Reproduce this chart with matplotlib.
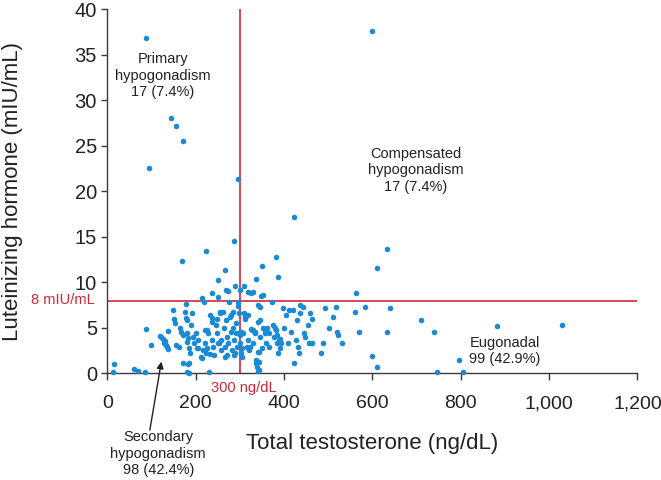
import matplotlib
matplotlib.use("Agg")
import matplotlib.pyplot as plt
import matplotlib.transforms as mtransforms

plt.rcParams['font.family'] = ['Liberation Sans', 'DejaVu Sans']

# Total testosterone (ng/dL) / Luteinizing hormone (mIU/mL)
tt_above = [87, 600, 143, 155, 171, 93, 295, 423, 286, 223, 632, 169, 381, 611, 350, 266, 387,
            336, 251, 563, 308, 289, 301, 268, 274, 326, 352, 348, 319, 330, 213, 236, 250]
lh_above = [36.8, 37.6, 28.0, 27.2, 25.5, 22.6, 21.4, 17.2, 14.5, 13.4, 13.7, 12.4, 12.8, 11.6, 11.8, 11.4, 10.6,
            10.4, 10.3, 8.8, 9.65, 9.6, 9.2, 9.2, 9.1, 8.8, 8.65, 8.55, 8.9, 8.9, 8.3, 8.85, 8.4]

tt_secondary = [14, 12, 61, 69, 84, 87, 99,
                120, 125, 127, 132, 136, 138, 122, 130, 134,
                148, 151, 154, 156, 161, 165, 167, 171, 172, 175,
                177, 180, 181, 183, 184, 184, 181, 186, 189, 191,
                194, 196, 200, 204, 206, 213, 216, 220, 221, 223,
                225, 228, 229, 232, 232, 237, 237, 240, 242, 245,
                247, 249, 252, 254, 256, 258, 261, 263, 266, 267,
                269, 271, 273, 279, 280, 282, 284, 287, 289, 290,
                292, 294, 296, 297,
                178, 180, 202, 183, 185, 211, 225, 236, 255, 251,
                277, 284, 286, 270, 299, 218, 276, 296]
lh_secondary = [1.0, 0.15, 0.5, 0.25, 0.2, 4.85, 3.1,
                4.1, 3.8, 3.4, 3.1, 4.7, 2.7, 4.0, 3.6, 2.9,
                7.0, 6.0, 5.5, 3.1, 2.9, 5.0, 4.6, 4.2, 1.1, 6.8,
                7.6, 5.9, 4.4, 3.85, 2.75, 1.1, 0.2, 2.2, 5.3, 6.6,
                4.0, 3.3, 4.4, 2.75, 3.7, 1.65, 2.6, 3.3, 4.8, 2.2,
                2.8, 4.4, 0.2, 2.1, 6.4, 5.7, 3.7, 2.9, 2.0, 5.3,
                6.0, 4.4, 3.3, 6.6, 2.6, 3.7, 6.8, 5.0, 2.9, 1.8,
                5.9, 4.0, 3.3, 6.4, 4.6, 2.6, 6.8, 3.7, 2.2, 5.5,
                4.4, 2.9, 7.4, 6.6,
                6.1, 3.5, 2.8, 1.0, 0.1, 1.85, 4.8, 6.1, 6.8, 3.3,
                6.2, 5.0, 2.0, 2.0, 4.6, 7.9, 7.9, 7.9]

tt_eugonadal = [300, 301, 302, 304, 307, 309, 312, 315, 319, 321,
                324, 328, 330, 333, 336, 337, 339, 341, 341, 342,
                345, 346, 350, 352, 357, 359, 362, 366, 372, 374,
                376, 381, 386, 388, 391, 394, 397, 400, 405, 408,
                411, 415, 420, 423, 426, 429, 432, 434, 436, 437,
                443, 445, 447, 453, 456, 459, 463, 463, 484, 488,
                493, 501, 511, 517, 520, 523, 530, 561, 570, 584,
                600, 610, 632, 640, 709, 739, 747, 795, 806, 882,
                1028,
                303, 305, 311, 318, 323, 330, 334, 341, 345, 340,
                342, 342, 357, 366, 379, 383, 383, 390]
lh_eugonadal = [4.2, 3.3, 2.2, 1.8, 4.4, 6.6, 6.0, 2.9, 3.7, 2.6,
                4.85, 4.8, 3.3, 4.4, 1.5, 1.1, 0.75, 0.25, 5.7, 2.4,
                7.3, 4.0, 2.75, 4.95, 4.4, 3.3, 4.95, 4.4, 7.9, 5.3,
                4.0, 4.8, 2.2, 3.7, 2.75, 3.3, 7.2, 4.95, 6.4, 3.3,
                7.0, 4.6, 7.0, 1.2, 3.7, 5.9, 2.9, 2.2, 6.6, 7.5,
                7.3, 4.4, 4.0, 5.3, 3.3, 6.6, 6.0, 3.3, 2.2, 3.3,
                7.2, 4.95, 6.2, 7.3, 4.6, 4.2, 3.4, 6.8, 4.6, 7.3,
                1.9, 0.73, 4.6, 7.2, 5.9, 4.6, 0.2, 1.5, 0.2, 5.2,
                5.3,
                4.6, 2.8, 6.2, 6.4, 2.9, 4.8, 4.6, 7.5, 5.9, 2.4,
                1.3, 0.4, 4.8, 2.9, 5.0, 4.2, 3.4, 3.8]

x_ticks = [0, 200, 400, 600, 800, 1000, 1200]
x_ticklabels = ["0", "200", "400", "600", "800", "1,000", "1,200"]
y_ticks = [0, 5, 10, 15, 20, 25, 30, 35, 40]

tt_cutoff = 300
lh_cutoff = 8

blue = '#1a8ad4'
red = '#d3263a'
axis_col = '#3a3a3a'
txt_col = '#222222'

fig = plt.figure(figsize=(6.61, 4.80), dpi=100)
ax = fig.add_axes([0.1626, 0.2219, 0.8018, 0.7591])

tt = tt_above + tt_secondary + tt_eugonadal
lh = lh_above + lh_secondary + lh_eugonadal
ax.scatter(tt, lh, s=16, color=blue, linewidths=0, zorder=3, clip_on=False)

ax.axvline(tt_cutoff, color=red, lw=1.2, zorder=2)
ax.axhline(lh_cutoff, color=red, lw=1.2, zorder=2)

ax.set_xlim(0, 1200)
ax.set_ylim(0, 40)
ax.set_xticks(x_ticks)
ax.set_xticklabels(x_ticklabels)
ax.set_yticks(y_ticks)
for s in ['top', 'right']:
    ax.spines[s].set_visible(False)
for s in ['left', 'bottom']:
    ax.spines[s].set_color(axis_col)
    ax.spines[s].set_linewidth(1.0)
ax.tick_params(axis='x', direction='out', length=5, width=1.0, color=axis_col,
               labelsize=14, labelcolor=txt_col, pad=10.5)
ax.tick_params(axis='y', direction='out', length=4.5, width=1.0, color=axis_col,
               labelsize=14.5, labelcolor=txt_col, pad=3)

ax.set_xlabel("Total testosterone (ng/dL)", fontsize=16, color=txt_col, va='center')
ax.xaxis.set_label_coords(0.5, -0.191)
ax.set_ylabel("Luteinizing hormone (mIU/mL)", fontsize=16, color=txt_col, va='center')
ax.yaxis.set_label_coords(-0.179, 0.5)

ann_font = ['Liberation Sans Narrow', 'Liberation Sans', 'DejaVu Sans']
ax.text(125, 32.7, "Primary\nhypogonadism\n17 (7.4%)", ha='center', va='center',
        fontsize=10.5, color=txt_col, family=ann_font, linespacing=1.2)
ax.text(698, 22.3, "Compensated\nhypogonadism\n17 (7.4%)", ha='center', va='center',
        fontsize=10.5, color=txt_col, family=ann_font, linespacing=1.2)
ax.text(900, 2.5, "Eugonadal\n99 (42.9%)", ha='center', va='center',
        fontsize=10.5, color=txt_col, family=ann_font, linespacing=1.2)

ax.text(115, -8.8, "Secondary\nhypogonadism\n98 (42.4%)", ha='center', va='center',
        fontsize=10.5, color=txt_col, family=ann_font, linespacing=1.2, clip_on=False)
ax.annotate("", xy=(122, 1.3), xytext=(96, -6.2), annotation_clip=False,
            arrowprops=dict(arrowstyle='-|>', color=txt_col, lw=1.0,
                            shrinkA=0, shrinkB=0, mutation_scale=10))

trans_y = mtransforms.blended_transform_factory(fig.transFigure, ax.transData)
ax.text(95 / 661, 8.1, "8 mIU/mL", transform=trans_y, ha='right', va='center',
        fontsize=10.5, color=red)
ax.text(308, -1.6, "300 ng/dL", ha='center', va='center', fontsize=10.5, color=red,
        clip_on=False)

fig.savefig("out.png", dpi=100)
